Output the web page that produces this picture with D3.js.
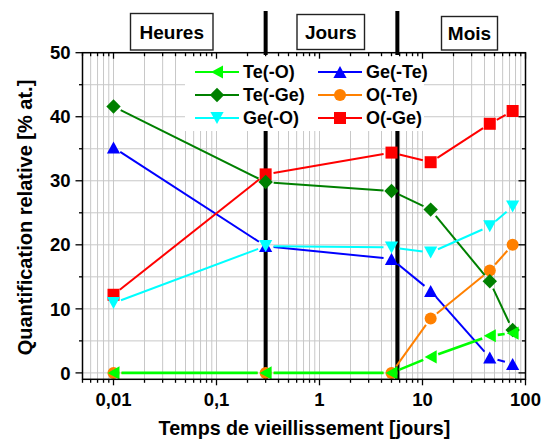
<!DOCTYPE html>
<html>
<head>
<meta charset="utf-8">
<script src="https://cdn.jsdelivr.net/npm/d3@7"></script>
<style>
  html, body { margin: 0; padding: 0; background: #fff; }
  svg { display: block; font-family: "Liberation Sans", Arial, sans-serif; font-weight: bold; }
</style>
</head>
<body>
<svg id="chart" width="543" height="442"></svg>
<script>
// ---------- data ----------
const days = [0.01, 0.3, 5, 12, 45, 75];
const TeO  = [0, 0, 0, 2.5, 5.8, 6.2];
const TeGe = [41.6, 29.8, 28.4, 25.5, 14.3, 6.7];
const GeO  = [10.9, 19.8, 19.6, 18.8, 22.9, 26.0];
const GeTe = [35.2, 19.8, 17.8, 12.8, 2.4, 1.4];
const OTe  = [0, 0, 0, 8.5, 16.0, 20.0];
const OGe  = [12.2, 31.0, 34.4, 32.9, 38.9, 40.9];

const seriesNames = ["Te(-O)", "Ge(-Te)", "Te(-Ge)", "O(-Te)", "Ge(-O)", "O(-Ge)"];
const xTickValues = [0.01, 0.1, 1, 10, 100];
const xTickLabels = ["0,01", "0,1", "1", "10", "100"];
const yTickValues = [0, 10, 20, 30, 40, 50];
const periodLabels = ["Heures", "Jours", "Mois"];
const periodBounds = [0.3, 5.7];
const xTitle = "Temps de vieillissement [jours]";
const yTitle = "Quantification relative [% at.]";

// ---------- setup ----------
const svg = d3.select("#chart");
const L = 82.5, R = 525.5, T = 52.7, B = 379.3;
const x = d3.scaleLog().domain([0.005, 100]).range([L, R]);
const y = d3.scaleLinear().domain([-1, 50]).range([B, T]);

const series = [
  { name: "Ge(-Te)", values: GeTe, color: "#0000ff", shape: "up" },
  { name: "O(-Ge)",  values: OGe,  color: "#ff0000", shape: "square" },
  { name: "O(-Te)",  values: OTe,  color: "#ff8000", shape: "circle" },
  { name: "Te(-Ge)", values: TeGe, color: "#008000", shape: "diamond" },
  { name: "Ge(-O)",  values: GeO,  color: "#00ffff", shape: "down" },
  { name: "Te(-O)",  values: TeO,  color: "#00ff00", shape: "left" }
];
const byName = {};
series.forEach(s => byName[s.name] = s);

function markerPath(shape, s) {
  const h = s / 2;
  switch (shape) {
    case "square": return `M${-h},${-h}H${h}V${h}H${-h}Z`;
    case "diamond": { const d = h * 1.2; return `M0,${-d}L${d},0L0,${d}L${-d},0Z`; }
    case "up": return `M0,${-h}L${h * 1.1},${h}L${-h * 1.1},${h}Z`;
    case "down": return `M0,${h}L${h * 1.1},${-h}L${-h * 1.1},${-h}Z`;
    case "left": return `M${-h},0L${h},${-h * 1.1}L${h},${h * 1.1}Z`;
    default: return null;
  }
}
function drawMarker(g, shape, cx, cy, color, s) {
  if (shape === "circle") {
    g.append("circle").attr("cx", cx).attr("cy", cy).attr("r", s / 2).attr("fill", color);
  } else {
    g.append("path").attr("d", markerPath(shape, s))
      .attr("transform", `translate(${cx},${cy})`).attr("fill", color);
  }
}

// ---------- grid ----------
const grid = svg.append("g");
const minorX = [];
[0.001, 0.01, 0.1, 1, 10].forEach(dec => {
  for (let k = 1; k <= 9; k++) {
    const v = dec * k;
    if (v >= 0.005 - 1e-12 && v <= 100 + 1e-9) minorX.push(v);
  }
});
minorX.push(100);
grid.selectAll("line.gx").data(minorX).enter().append("line")
  .attr("x1", d => x(d)).attr("x2", d => x(d)).attr("y1", T).attr("y2", B)
  .attr("stroke", "#c8c8c8").attr("stroke-width", 1);
const yGrid = d3.range(0, 51, 5);
grid.selectAll("line.gy").data(yGrid).enter().append("line")
  .attr("x1", L).attr("x2", R).attr("y1", d => y(d)).attr("y2", d => y(d))
  .attr("stroke", "#c8c8c8").attr("stroke-width", 1);

// ---------- period separators ----------
svg.selectAll("line.sep").data(periodBounds).enter().append("line")
  .attr("x1", d => x(d)).attr("x2", d => x(d)).attr("y1", 11).attr("y2", B)
  .attr("stroke", "#000").attr("stroke-width", 4);

// ---------- data ----------
const gap = 8;
series.forEach(s => {
  const g = svg.append("g");
  const pts = days.map((d, i) => [x(d), y(s.values[i])]);
  for (let i = 0; i < pts.length - 1; i++) {
    const [x1, y1] = pts[i], [x2, y2] = pts[i + 1];
    const len = Math.hypot(x2 - x1, y2 - y1);
    if (len <= 2 * gap) continue;
    const ux = (x2 - x1) / len, uy = (y2 - y1) / len;
    g.append("line")
      .attr("x1", x1 + ux * gap).attr("y1", y1 + uy * gap)
      .attr("x2", x2 - ux * gap).attr("y2", y2 - uy * gap)
      .attr("stroke", s.color).attr("stroke-width", s.name === "Te(-O)" ? 2.6 : 2);
  }
  pts.forEach(p => drawMarker(g, s.shape, p[0], p[1], s.color, 12));
});

// ---------- legend ----------
const leg = svg.append("g");
leg.append("rect").attr("x", 185).attr("y", 55).attr("width", 239).attr("height", 76).attr("fill", "#fff");
const colX = [195, 318], rowY = [72, 95, 118];
seriesNames.forEach((n, i) => {
  const s = byName[n];
  const cx = colX[i % 2], cy = rowY[Math.floor(i / 2)];
  leg.append("line").attr("x1", cx).attr("x2", cx + 44).attr("y1", cy).attr("y2", cy)
    .attr("stroke", s.color).attr("stroke-width", 2);
  drawMarker(leg, s.shape, cx + 22, cy, s.color, 12);
  leg.append("text").attr("x", cx + 48).attr("y", cy).attr("dy", "0.36em")
    .attr("font-size", 18).text(n);
});

// ---------- axes frame & ticks ----------
const ax = svg.append("g").attr("stroke", "#000");
ax.append("rect").attr("x", L).attr("y", T).attr("width", R - L).attr("height", B - T)
  .attr("fill", "none").attr("stroke-width", 1.5);
// bottom ticks (outside) and top ticks (inside)
minorX.forEach(v => {
  const major = xTickValues.some(t => Math.abs(t - v) / t < 1e-6);
  const len = major ? 6 : 3.5;
  ax.append("line").attr("x1", x(v)).attr("x2", x(v)).attr("y1", B).attr("y2", B + len).attr("stroke-width", 1.3);
  ax.append("line").attr("x1", x(v)).attr("x2", x(v)).attr("y1", T).attr("y2", T + len).attr("stroke-width", 1.3);
});
// left ticks (outside) and right ticks (inside)
yGrid.forEach(v => {
  const major = v % 10 === 0;
  const len = major ? 7 : 3.5;
  ax.append("line").attr("x1", L - len).attr("x2", L).attr("y1", y(v)).attr("y2", y(v)).attr("stroke-width", 1.3);
  ax.append("line").attr("x1", R - len).attr("x2", R).attr("y1", y(v)).attr("y2", y(v)).attr("stroke-width", 1.3);
});

// tick labels
svg.selectAll("text.xt").data(xTickValues).enter().append("text")
  .attr("x", d => x(d)).attr("y", 406).attr("text-anchor", "middle")
  .attr("font-size", 18.5).text((d, i) => xTickLabels[i]);
svg.selectAll("text.yt").data(yTickValues).enter().append("text")
  .attr("x", 70.5).attr("y", d => y(d)).attr("dy", "0.36em").attr("text-anchor", "end")
  .attr("font-size", 18.5).text(d => d);

// axis titles
svg.append("text").attr("x", 304.5).attr("y", 435).attr("text-anchor", "middle")
  .attr("font-size", 19.7).text(xTitle);
svg.append("text").attr("transform", "translate(32,217.5) rotate(-90)").attr("text-anchor", "middle")
  .attr("font-size", 20).text(yTitle);

// period boxes
const boxes = [
  { x0: 130.5, x1: 213, y0: 13.5, y1: 50 },
  { x0: 297, x1: 364.5, y0: 14.5, y1: 49.5 },
  { x0: 441.5, x1: 497.5, y0: 16.5, y1: 50 }
];
periodLabels.forEach((t, i) => {
  const b = boxes[i];
  svg.append("rect").attr("x", b.x0).attr("y", b.y0).attr("width", b.x1 - b.x0).attr("height", b.y1 - b.y0)
    .attr("fill", "#fff").attr("stroke", "#222").attr("stroke-width", 1.4);
  svg.append("text").attr("x", (b.x0 + b.x1) / 2).attr("y", (b.y0 + b.y1) / 2).attr("dy", "0.36em")
    .attr("text-anchor", "middle").attr("font-size", 19).text(t);
});
</script>
</body>
</html>
